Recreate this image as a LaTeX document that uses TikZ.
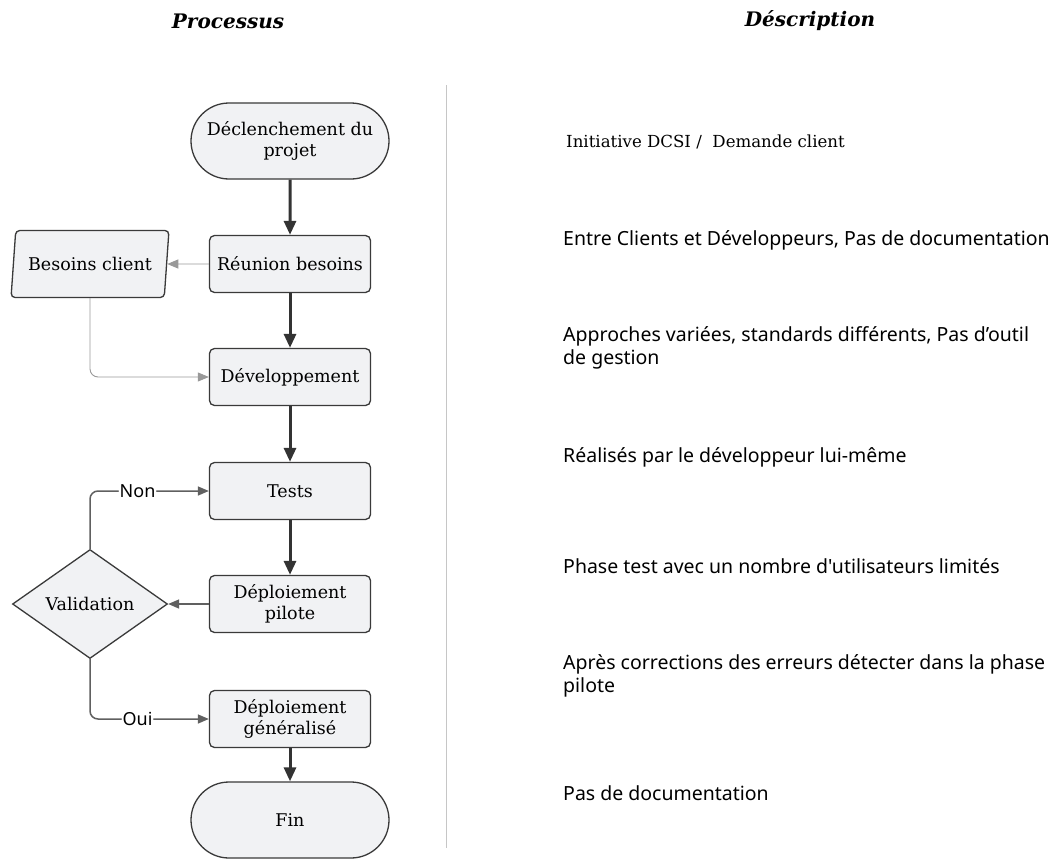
\documentclass[tikz,border=0pt]{standalone}
\usepackage{fontspec}
\setmainfont{DejaVu Serif}
\newfontfamily\descfont{Noto Sans}
\usetikzlibrary{shapes.geometric,shapes.misc,arrows.meta}
\definecolor{boxfill}{HTML}{F1F2F4}
\definecolor{boxline}{HTML}{3A3A3A}
\definecolor{arrowc}{HTML}{333333}
\tikzset{
  base/.style={draw=boxline, line width=1.3pt, fill=boxfill, font=\fontsize{17.5}{21}\selectfont, align=center, inner sep=2pt},
  terminal/.style={base, rounded rectangle, minimum width=202pt, minimum height=76pt},
  stepbox/.style={base, rectangle, rounded corners=5pt, minimum width=161pt, minimum height=57pt},
  datanode/.style={base, trapezium, trapezium left angle=77, trapezium right angle=103, trapezium stretches=true, rounded corners=4pt, minimum width=158pt, minimum height=67pt},
  decision/.style={base, diamond, aspect=1.42, minimum width=155pt, minimum height=109pt, inner sep=0pt},
  mainflow/.style={draw=arrowc, line width=3pt, -{Triangle[length=14pt,width=12pt]}},
  sideflow/.style={draw=gray!80, line width=0.9pt, -{Triangle[length=11pt,width=9pt]}, color=gray!80, rounded corners=8pt},
  loopflow/.style={draw=gray!75!black, line width=1.5pt, -{Triangle[length=11pt,width=9pt]}, rounded corners=8pt},
  branchlabel/.style={fill=white, text=black, inner sep=1pt, font=\descfont\fontsize{18}{20}\selectfont},
  desc/.style={anchor=west, align=left, font=\descfont\fontsize{19.5}{23}\selectfont, inner sep=0pt},
  header/.style={font=\bfseries\itshape\fontsize{20}{22}\selectfont}
}
\begin{document}
\begin{tikzpicture}[x=1pt, y=-1pt]
\useasboundingbox[fill=white] (0,0) rectangle (1054,859);

% column headings
\node[header] (h1) at (228,21) {Processus};
\node[header] (h2) at (810,21) {Déscription};

% separator between the two columns
\coordinate (sepTop) at (446,85);
\coordinate (sepBot) at (446,848);
\draw[gray!45, line width=1pt] (sepTop) -- (sepBot);

% process chart
\node[terminal] (start) at (290,141) {Déclenchement du\\projet};
\node[stepbox] (reun) at (290,264) {Réunion besoins};
\node[datanode] (besoins) at (90,264) {Besoins client};
\node[stepbox] (dev) at (290,377) {Développement};
\node[stepbox] (tests) at (290,491) {Tests};
\node[stepbox] (pilote) at (290,604) {Déploiement\\pilote};
\node[decision] (valid) at (90,604) {Validation};
\node[stepbox] (gen) at (290,719) {Déploiement\\généralisé};
\node[terminal] (fin) at (290,820) {Fin};

\draw[mainflow] (start) -- (reun);
\draw[mainflow] (reun) -- (dev);
\draw[mainflow] (dev) -- (tests);
\draw[mainflow] (tests) -- (pilote);
\draw[mainflow] (gen) -- (fin);

\draw[sideflow] (reun.west) -- (besoins.east);
\draw[sideflow] (besoins.south) |- (dev.west);
\draw[loopflow] (pilote.west) -- (valid.east);
\draw[loopflow] (valid.north) |- node[branchlabel, pos=0.70] {Non} (tests.west);
\draw[loopflow] (valid.south) |- node[branchlabel, pos=0.70] {Oui} (gen.west);

% descriptions
\node[desc, font=\fontsize{16.6}{22}\selectfont] (d1) at (566,142) {Initiative DCSI /\ \ Demande client};
\node[desc] (d2) at (563,240) {Entre Clients et Développeurs, Pas de documentation};
\node[desc] (d3) at (563,348) {Approches variées, standards différents, Pas d’outil\\de gestion};
\node[desc] (d4) at (563,457) {Réalisés par le développeur lui-même};
\node[desc] (d5) at (563,566) {Phase test avec un nombre d'utilisateurs limités};
\node[desc] (d6) at (563,676) {Après corrections des erreurs détecter dans la phase\\pilote};
\node[desc] (d7) at (563,793) {Pas de documentation};
\end{tikzpicture}
\end{document}
